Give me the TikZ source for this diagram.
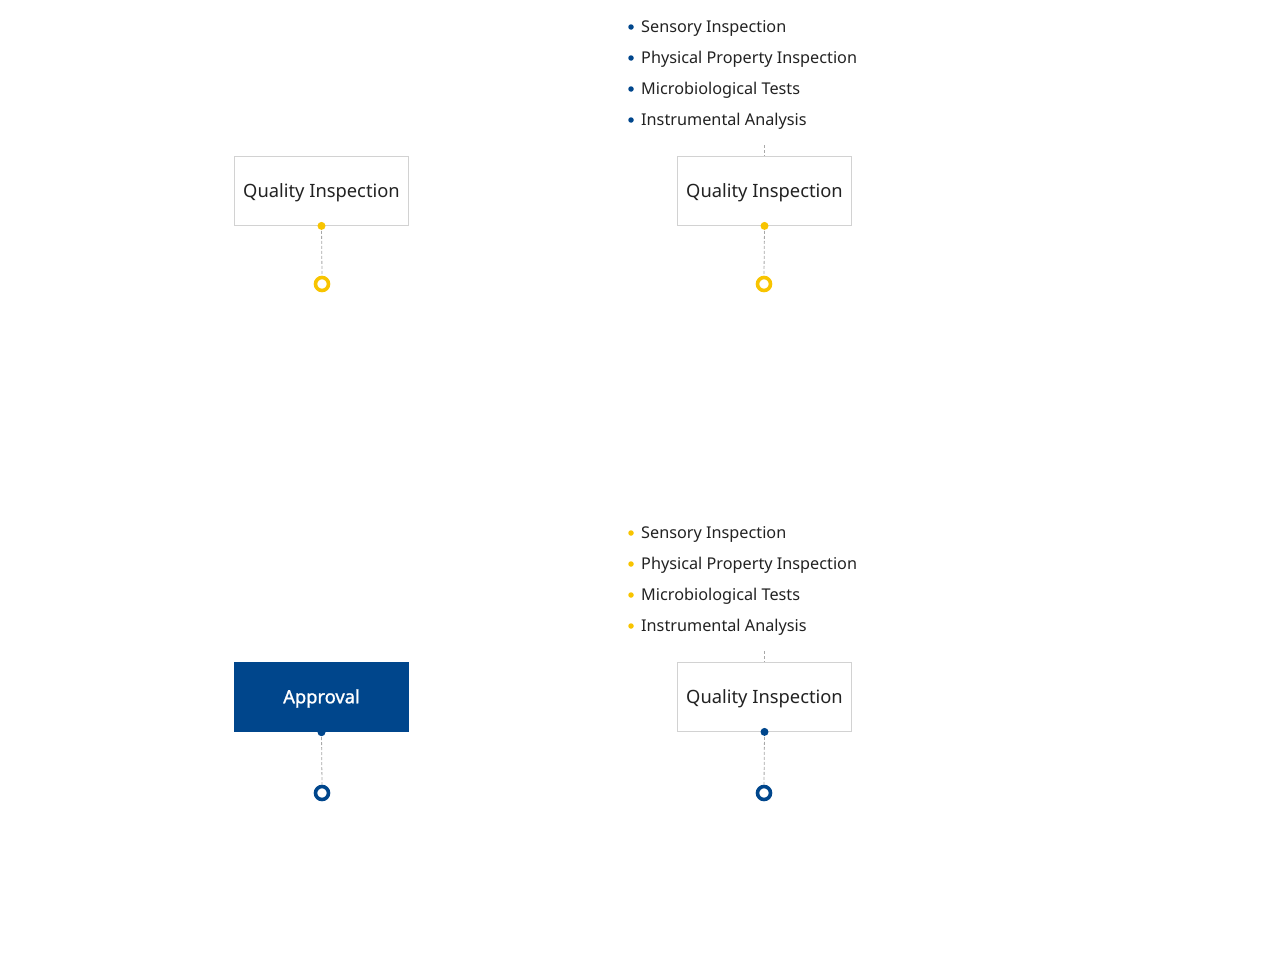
\documentclass[tikz,border=0pt]{standalone}
\usepackage{fontspec}
\setmainfont{Noto Sans}
\newfontfamily\semib[FakeBold=1.3]{Noto Sans}
\definecolor{qyellow}{HTML}{F8C400}
\definecolor{qblue}{HTML}{00468C}
\definecolor{qgray}{HTML}{D2D2D2}
\definecolor{qtext}{HTML}{222222}
\definecolor{qdash}{HTML}{A8A8A8}
\begin{document}
\begin{tikzpicture}[x=1bp,y=-1bp,
  qbox/.style={draw=qgray,line width=0.8bp,fill=white,minimum width=174bp,minimum height=69bp,inner sep=0pt,text=qtext,font=\fontsize{18.4}{22}\selectfont},
  abox/.style={fill=qblue,minimum width=175bp,minimum height=70bp,inner sep=0pt,text=white,font=\semib\fontsize{18.4}{22}\selectfont},
  conn/.style={draw=qdash,line width=0.8bp,dash pattern=on 3bp off 2bp},
  sdot/.style={circle,fill=#1,minimum size=8bp,inner sep=0pt},
  ring/.style={circle,draw=#1,line width=3.6bp,fill=white,minimum size=13bp,inner sep=0pt},
  item/.style={anchor=west,inner sep=0pt,text=qtext,font=\fontsize{16.3}{20}\selectfont},
  bul/.style={circle,fill=#1,minimum size=5.5bp,inner sep=0pt}]
\useasboundingbox (0,0) rectangle (1273,961);
% top left
\node[qbox] (q1) at (321.5,191) {};
\node[text=qtext,font=\fontsize{18.4}{22}\selectfont] (q1t) at (321.5,192.5) {Quality Inspection};
\node[ring=qyellow] (r1) at (322,284) {};
\draw[conn] (q1.south) -- (r1.north);
\node[sdot=qyellow] (d1) at (q1.south) {};
% top right
\node[qbox] (q2) at (764.5,191) {};
\node[text=qtext,font=\fontsize{18.4}{22}\selectfont] (q2t) at (764.5,192.5) {Quality Inspection};
\node[ring=qyellow] (r2) at (764,284) {};
\draw[conn] (q2.south) -- (r2.north);
\node[sdot=qyellow] (d2) at (q2.south) {};
\coordinate (t2) at (764.5,145);
\draw[conn] (t2) -- (q2.north);
\foreach \t/\y/\n in {Sensory Inspection/27/a,Physical Property Inspection/58/b,Microbiological Tests/89/c,Instrumental Analysis/120/d}{
  \node[bul=qblue] (b1\n) at (631,\y) {};
  \node[item] (i1\n) at (641,\y+1.5) {\t};
}
% bottom left
\node[abox] (a3) at (321.5,697) {};
\node[text=white,font=\semib\fontsize{18.4}{22}\selectfont] (a3t) at (321.5,698.5) {Approval};
\node[ring=qblue] (r3) at (322,793) {};
\draw[conn] (a3.south) -- (r3.north);
\node[sdot=qblue] (d3) at (a3.south) {};
% bottom right
\node[qbox] (q4) at (764.5,697) {};
\node[text=qtext,font=\fontsize{18.4}{22}\selectfont] (q4t) at (764.5,698.5) {Quality Inspection};
\node[ring=qblue] (r4) at (764,793) {};
\draw[conn] (q4.south) -- (r4.north);
\node[sdot=qblue] (d4) at (q4.south) {};
\coordinate (t4) at (764.5,651);
\draw[conn] (t4) -- (q4.north);
\foreach \t/\y/\n in {Sensory Inspection/533/a,Physical Property Inspection/564/b,Microbiological Tests/595/c,Instrumental Analysis/626/d}{
  \node[bul=qyellow] (b4\n) at (631,\y) {};
  \node[item] (i4\n) at (641,\y+1.5) {\t};
}
\end{tikzpicture}
\end{document}
